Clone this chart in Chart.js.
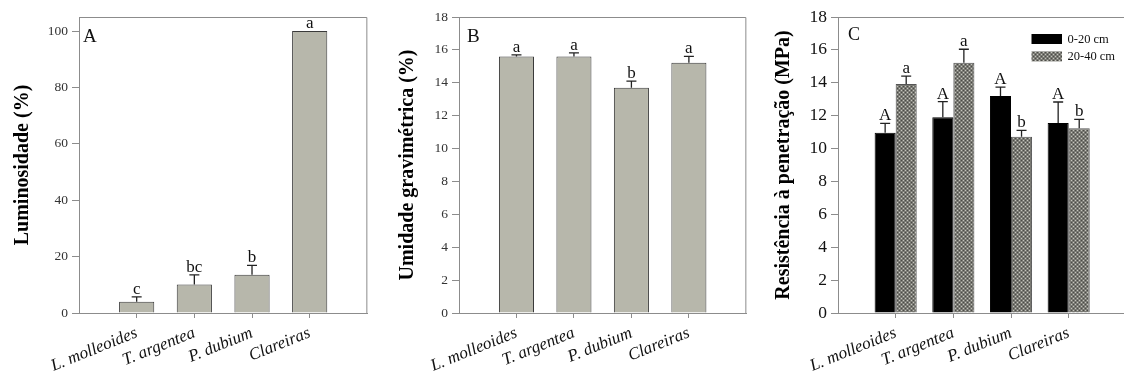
<!DOCTYPE html>
<html>
<head>
<meta charset="utf-8">
<script src="https://cdn.jsdelivr.net/npm/chart.js@4.4.1/dist/chart.umd.min.js"></script>
<style>
    html, body { margin: 0; padding: 0; background: #fff; overflow: hidden; width: 1124px; height: 383px; }
    canvas { position: absolute; top: 0; }
    #canvasA { left: 0; }
    #canvasB { left: 380px; }
    #canvasC { left: 759px; }
</style>
</head>
<body>
<canvas id="canvasA" width="380" height="383"></canvas>
<canvas id="canvasB" width="379" height="383"></canvas>
<canvas id="canvasC" width="380" height="383"></canvas>
<script>
const categories = ['L. molleoides', 'T. argentea', 'P. dubium', 'Clareiras'];

const luminosidade = [4.0, 10.1, 13.6, 100];
const luminosidadeErr = [1.7, 3.4, 3.3, 0];
const luminosidadeLetters = ['c', 'bc', 'b', 'a'];
const ticksA = [0, 20, 40, 60, 80, 100];

const umidade = [15.6, 15.6, 13.7, 15.22];
const umidadeErr = [0.1, 0.22, 0.4, 0.38];
const umidadeLetters = ['a', 'a', 'b', 'a'];
const ticksB = [0, 2, 4, 6, 8, 10, 12, 14, 16, 18];

const resist0020 = [10.96, 11.91, 13.19, 11.55];
const resist0020Err = [0.57, 0.94, 0.55, 1.28];
const resist0020Letters = ['A', 'A', 'A', 'A'];
const resist2040 = [13.92, 15.22, 10.72, 11.24];
const resist2040Err = [0.49, 0.82, 0.38, 0.53];
const resist2040Letters = ['a', 'a', 'b', 'b'];
const ticksC = [0, 2, 4, 6, 8, 10, 12, 14, 16, 18];

const SERIF = '"Liberation Serif", "Times New Roman", serif';

// blank slot on each side so the bars sit at 1..4 of a 0..5 axis
function pad(arr, fill) { return [fill, ...arr, fill]; }
const labels = pad(categories, '');

function makePattern() {
    const c = document.createElement('canvas');
    c.width = 4; c.height = 4;
    const g = c.getContext('2d');
    g.fillStyle = '#7a7a74';
    g.fillRect(0, 0, 4, 4);
    g.fillStyle = '#c4c4bc';
    g.fillRect(0, 0, 1, 1);
    g.fillRect(2, 2, 1, 1);
    g.fillStyle = '#4a4a46';
    g.fillRect(2, 0, 1, 1);
    g.fillRect(0, 2, 1, 1);
    return g.createPattern(c, 'repeat');
}

const errPlugin = {
    id: 'errLetters',
    afterDatasetsDraw(chart, args, opts) {
        const ctx = chart.ctx;
        const y = chart.scales.y;
        chart.data.datasets.forEach((ds, i) => {
            const meta = chart.getDatasetMeta(i);
            meta.data.forEach((bar, j) => {
                const v = ds.data[j];
                if (v == null) return;
                const e = ds.err[j] || 0;
                const top = y.getPixelForValue(v + e);
                ctx.save();
                ctx.strokeStyle = '#222';
                ctx.lineWidth = 1.3;
                if (e > 0) {
                    ctx.beginPath();
                    ctx.moveTo(bar.x, bar.y);
                    ctx.lineTo(bar.x, top);
                    ctx.moveTo(bar.x - 5, top);
                    ctx.lineTo(bar.x + 5, top);
                    ctx.stroke();
                }
                ctx.fillStyle = '#111';
                ctx.font = opts.font;
                ctx.textAlign = 'center';
                ctx.textBaseline = 'alphabetic';
                ctx.fillText(ds.letters[j], bar.x, top - 3);
                ctx.restore();
            });
        });
    }
};

const framePlugin = {
    id: 'frame',
    afterDraw(chart, args, opts) {
        const ctx = chart.ctx;
        const a = chart.chartArea;
        ctx.save();
        ctx.strokeStyle = '#8c8c8c';
        ctx.lineWidth = 1;
        ctx.beginPath();
        ctx.moveTo(a.left, a.top + 0.5);
        ctx.lineTo(a.right - 0.5, a.top + 0.5);
        ctx.lineTo(a.right - 0.5, a.bottom);
        ctx.stroke();
        ctx.fillStyle = '#111';
        ctx.font = opts.font;
        ctx.textBaseline = 'alphabetic';
        ctx.fillText(opts.text, a.left + opts.dx, a.top + opts.dy);
        ctx.restore();
    }
};

const boxLegend = {
    id: 'boxLegend',
    afterDraw(chart, args, opts) {
        if (!opts.show) return;
        const ctx = chart.ctx;
        const a = chart.chartArea;
        ctx.save();
        chart.data.datasets.forEach((ds, i) => {
            const x = a.left + opts.dx;
            const y = a.top + opts.dy + i * 17.4;
            ctx.fillStyle = ds.backgroundColor;
            ctx.fillRect(x, y, 30.5, 10);
            ctx.fillStyle = '#111';
            ctx.font = '12.5px ' + SERIF;
            ctx.textBaseline = 'middle';
            ctx.fillText(ds.label, x + 36, y + 5.5);
        });
        ctx.restore();
    }
};

function makeConfig(datasets, ticks, yMax, title, titlePad, tickFont, panel, legend, catPct) {
    return {
        type: 'bar',
        data: { labels: labels, datasets: datasets },
        options: {
            responsive: false,
            animation: false,
            layout: { padding: { left: 0, top: 17, right: 5, bottom: 0 } },
            categoryPercentage: catPct,
            barPercentage: 1,
            scales: {
                x: {
                    offset: false,
                    afterFit: s => { s.height = 70; },
                    grid: {
                        offset: false,
                        drawOnChartArea: false,
                        drawTicks: true,
                        tickLength: 5,
                        color: ctx => (ctx.index === 0 || ctx.index === labels.length - 1) ? 'rgba(0,0,0,0)' : '#8c8c8c',
                        tickColor: ctx => (ctx.index === 0 || ctx.index === labels.length - 1) ? 'rgba(0,0,0,0)' : '#8c8c8c'
                    },
                    border: { display: true, color: '#8c8c8c', width: 1 },
                    ticks: {
                        autoSkip: false,
                        minRotation: 22,
                        maxRotation: 22,
                        padding: 5,
                        color: '#111',
                        font: { family: SERIF, size: 17, style: 'italic' }
                    }
                },
                y: {
                    min: 0,
                    max: yMax,
                    afterFit: s => { s.width = 79; },
                    afterBuildTicks: s => { s.ticks = ticks.map(v => ({ value: v })); },
                    grid: { drawOnChartArea: false, drawTicks: true, tickLength: 7, color: '#8c8c8c', tickColor: '#8c8c8c' },
                    border: { display: true, color: '#8c8c8c', width: 1 },
                    ticks: { padding: 4, color: tickFont.color, font: { family: SERIF, size: tickFont.size } },
                    title: {
                        display: true,
                        text: title,
                        color: '#000',
                        padding: { top: titlePad, bottom: 0 },
                        font: { family: SERIF, size: 20, weight: 'bold' }
                    }
                }
            },
            plugins: {
                legend: { display: false },
                tooltip: { enabled: false },
                errLetters: { font: '17px ' + SERIF },
                frame: panel,
                boxLegend: legend
            }
        },
        plugins: [errPlugin, framePlugin, boxLegend]
    };
}

const grayBar = '#b7b7ab';

const chartA = new Chart(document.getElementById('canvasA'), makeConfig(
    [{
        label: 'Luminosidade',
        data: pad(luminosidade, null),
        err: pad(luminosidadeErr, 0),
        letters: pad(luminosidadeLetters, ''),
        backgroundColor: grayBar,
        borderColor: '#3a3a3a',
        borderWidth: 1
    }],
    ticksA, 105, 'Luminosidade (%)', 11, { size: 13.5, color: '#333' },
    { text: 'A', dx: 4, dy: 25, font: '19px ' + SERIF },
    { show: false }, 0.61
));

const chartB = new Chart(document.getElementById('canvasB'), makeConfig(
    [{
        label: 'Umidade',
        data: pad(umidade, null),
        err: pad(umidadeErr, 0),
        letters: pad(umidadeLetters, ''),
        backgroundColor: grayBar,
        borderColor: '#3a3a3a',
        borderWidth: 1
    }],
    ticksB, 18, 'Umidade gravimétrica (%)', 16, { size: 13.5, color: '#333' },
    { text: 'B', dx: 8, dy: 25, font: '19px ' + SERIF },
    { show: false }, 0.61
));

const chartC = new Chart(document.getElementById('canvasC'), makeConfig(
    [{
        label: '0-20 cm',
        data: pad(resist0020, null),
        err: pad(resist0020Err, 0),
        letters: pad(resist0020Letters, ''),
        backgroundColor: '#000',
        borderColor: '#000',
        borderWidth: 1
    }, {
        label: '20-40 cm',
        data: pad(resist2040, null),
        err: pad(resist2040Err, 0),
        letters: pad(resist2040Letters, ''),
        backgroundColor: makePattern(),
        borderColor: '#555',
        borderWidth: 1
    }],
    ticksC, 18, 'Resistência à penetração (MPa)', 13, { size: 17.5, color: '#111' },
    { text: 'C', dx: 10, dy: 23, font: '18px ' + SERIF },
    { show: true, dx: 193.5, dy: 17 }, 0.73
));
</script>
</body>
</html>
